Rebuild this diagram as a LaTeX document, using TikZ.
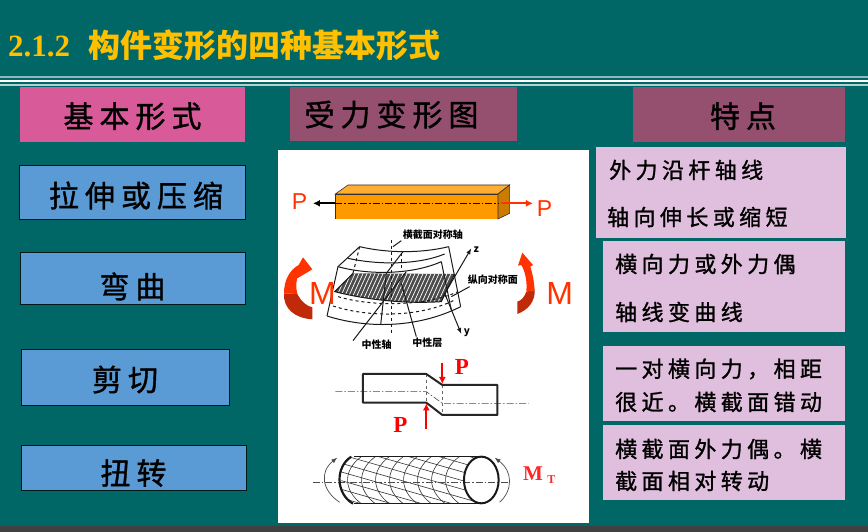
\documentclass[tikz,border=0pt]{standalone}
\usepackage{fontspec}
\setmainfont{Liberation Serif}
\setsansfont{Liberation Sans}
\newfontfamily\cjk{Noto Sans CJK SC}
\newfontfamily\cjkwide[LetterSpace=20,FakeBold=1.2]{Noto Sans CJK SC}
\usetikzlibrary{arrows.meta}
\definecolor{bgteal}{HTML}{006666}
\definecolor{titlegold}{HTML}{FFC000}
\definecolor{hotpink}{HTML}{D85A98}
\definecolor{plum}{HTML}{955070}
\definecolor{skyblue}{HTML}{5B9BD5}
\definecolor{lilac}{HTML}{E0BEDD}
\definecolor{beamor}{HTML}{FF9900}
\definecolor{momred}{HTML}{FF3300}
\definecolor{momdark}{HTML}{C02A08}
\newcommand{\lowr}[2]{\raisebox{#1}[0pt][0pt]{#2}}

\begin{document}
\begin{tikzpicture}[x=1pt,y=-1pt,
  boxh/.style={inner sep=0pt, outer sep=0pt, fill=#1, text=black,
               font=\cjkwide\fontsize{30}{30}\selectfont},
  boxb/.style={boxh=skyblue, draw=black!75!bgteal, line width=0.8pt},
  boxt/.style={inner sep=0pt, outer sep=0pt, fill=lilac},
  txt/.style={inner sep=0pt, anchor=west, font=\cjkwide\fontsize{22}{22}\selectfont},
  small/.style={inner sep=0pt, font=\cjk\bfseries\fontsize{10}{10}\selectfont},
  zone/.style={shift={(278,#1)},x=0.3333pt,y=-0.3333pt},
  axisl/.style={line width=0.6pt, dash pattern=on 7pt off 2pt on 1.5pt off 2pt},
  ar/.style={-{Latex[length=7pt,width=7pt]}, line width=1.8pt},
  thin1/.style={line width=1pt, black!90}
]
\useasboundingbox (0,0) rectangle (868,532);
\fill[bgteal] (0,0) rectangle (868,532);
\fill[black!75] (0,526) rectangle (868,532);

\node[inner sep=0pt, anchor=base west, text=titlegold, font=\bfseries\fontsize{31}{31}\selectfont] (num) at (8,57) {2.1.2};
\node[inner sep=0pt, anchor=base west, text=titlegold, font=\cjk\bfseries\fontsize{32}{32}\selectfont] (title) at (88,58) {构件变形的四种基本形式};
\fill[white!55!bgteal] (0,76.5) rectangle (868,78);
\fill[white] (0,80.5) rectangle (868,82.5);
\fill[white!70!bgteal] (0,84.5) rectangle (868,86);

\node[boxh=hotpink, minimum width=225pt, minimum height=55pt] (h1) at (132.5,114.5) {\lowr{-13pt}{基本形式}};
\node[boxh=plum, minimum width=227pt, minimum height=54pt] (h2) at (403.5,114) {\hspace*{-24pt}\lowr{-12pt}{受力变形图}};
\node[boxh=plum, minimum width=212pt, minimum height=55pt] (h3) at (739,114.5) {\hspace*{8pt}\lowr{-13pt}{特点}};

\node[boxb, minimum width=226pt, minimum height=54pt] (b1) at (132,192) {\hspace*{8pt}\lowr{-15pt}{拉伸或压缩}};
\node[boxb, minimum width=225pt, minimum height=52pt] (b2) at (132.5,278) {\lowr{-20pt}{弯曲}};
\node[boxb, minimum width=208pt, minimum height=56pt] (b3) at (125,377) {\lowr{-14pt}{剪切}};
\node[boxb, minimum width=225pt, minimum height=45pt] (b4) at (133.5,467.5) {\lowr{-17pt}{扭转}};

\node[fill=white, inner sep=0pt, outer sep=0pt, minimum width=311pt, minimum height=373pt] (panel) at (433.5,336.5) {};

\node[boxt, minimum width=250pt, minimum height=91pt] (t1) at (721,192.5) {};
\node[boxt, minimum width=242pt, minimum height=91pt] (t2) at (724,286.5) {};
\node[boxt, minimum width=242pt, minimum height=75pt] (t3) at (724,383.5) {};
\node[boxt, minimum width=242pt, minimum height=75pt] (t4) at (724,462.5) {};
\node[txt] (t1a) at (609,170) {外力沿杆轴线};
\node[txt] (t1b) at (607,217) {轴向伸长或缩短};
\node[txt] (t2a) at (615,264) {横向力或外力偶};
\node[txt] (t2b) at (615,312) {轴线变曲线};
\node[txt] (t3a) at (615,369) {一对横向力，相距};
\node[txt] (t3b) at (615,402) {很近。横截面错动};
\node[txt] (t4a) at (615,449) {横截面外力偶。横};
\node[txt] (t4b) at (615,481) {截面相对转动};

\begin{scope}[zone=150]
\fill[beamor!80!white, draw=black!80, line width=0.6pt] (172,132) -- (210,105) -- (695,105) -- (660,132) -- cycle;
\fill[beamor] (172,132) rectangle (660,207);
\draw[black!80, line width=0.7pt] (172,207) -- (172,132) -- (660,132) -- (660,207);
\fill[beamor!80!black, draw=black!80, line width=0.6pt] (660,132) -- (695,105) -- (695,190) -- (660,207) -- cycle;
\draw[axisl] (172,160) -- (660,160);
\draw[ar, black] (172,160) -- (105,160);
\draw[ar, momred] (670,160) -- (765,160);
\node[text=momred, font=\sffamily\fontsize{23}{23}\selectfont, inner sep=0pt] (p1) at (65,155) {P};
\node[text=momred, font=\sffamily\fontsize{23}{23}\selectfont, inner sep=0pt] (p2) at (800,175) {P};

\begin{scope}
\clip (225,370) -- (530,372) -- (490,455) .. controls (380,462) and (270,450) .. (170,425) -- cycle;
\fill[black!70] (150,360) rectangle (540,470);
\foreach \i in {0,1,...,36}
  \draw[white, line width=0.7pt] (150+\i*12,470) -- (200+\i*12,360);
\end{scope}
\draw[thin1] (225,370) -- (170,425) .. controls (270,450) and (380,462) .. (490,455) -- (530,372);
\draw[thin1] (245,290) .. controls (330,310) and (430,310) .. (512,290);
\draw[thin1] (210,325) .. controls (300,345) and (420,345) .. (500,312);
\draw[thin1] (180,350) .. controls (270,375) and (400,375) .. (490,335);
\draw[thin1] (147,498) .. controls (280,540) and (430,530) .. (548,470);
\draw[thin1] (245,290) -- (180,350) -- (147,498);
\draw[thin1] (512,290) -- (548,470);
\draw[thin1] (490,335) -- (520,480);
\draw[thin1] (375,305) -- (325,370) -- (308,525);
\draw[thin1, dashed] (245,290) -- (225,370);
\draw[thin1, dashed] (180,440) .. controls (280,470) and (440,470) .. (540,425);
\draw[thin1, dashed] (165,468) .. controls (280,505) and (430,500) .. (530,450);
\draw[thin1, dashed] (340,270) -- (340,550);
\draw[thin1, dashed] (372,310) -- (372,365);
\draw[thin1, -{Latex[length=6pt]}] (495,440) -- (580,295);
\draw[thin1, -{Latex[length=6pt]}] (500,430) -- (550,552);
\node[small] (lz) at (595,300) {z};
\node[small] (ly) at (567,548) {y};
\node[small] (l1) at (465,255) {横截面对称轴};
\node[small] (l2) at (645,388) {纵向对称面};
\node[small] (l3) at (296,585) {中性轴};
\node[small] (l4) at (448,578) {中性层};
\draw[thin1] (370,272) -- (345,290);
\draw[thin1] (575,410) -- (520,440);
\draw[thin1] (225,572) -- (385,365);
\draw[thin1] (415,560) -- (370,400);

\fill[momred] (18,430) .. controls (18,390) and (35,360) .. (62,345) -- (75,322) -- (103,358) -- (58,385) -- (62,372) .. controls (55,385) and (52,410) .. (58,432) -- cycle;
\fill[momdark] (18,430) -- (58,432) .. controls (70,455) and (85,468) .. (103,472) -- (103,508) .. controls (50,505) and (15,475) .. (18,430) -- cycle;
\fill[momred] (770,420) .. controls (768,390) and (762,365) .. (757,350) -- (765,345) -- (733,308) -- (720,347) -- (730,345) .. controls (742,365) and (748,395) .. (745,425) -- cycle;
\fill[momdark] (770,420) -- (745,425) .. controls (740,440) and (730,452) .. (718,455) -- (718,492) .. controls (750,480) and (772,455) .. (770,420) -- cycle;
\node[text=momred, font=\sffamily\fontsize{32}{32}\selectfont, inner sep=0pt] (m1) at (133,432) {M};
\node[text=momred, font=\sffamily\fontsize{32}{32}\selectfont, inner sep=0pt] (m2) at (845,432) {M};
\end{scope}

\begin{scope}[zone=340]
\draw[axisl, black!70] (172,155) -- (445,155) -- (493,190) -- (752,190);
\draw[black!60, line width=0.8pt, dashed] (445,102) -- (445,188) (493,135) -- (493,225);
\draw[black!85, line width=2pt, line join=round] (255,102) -- (445,102) -- (493,135) -- (658,135) -- (658,225) -- (493,225) -- (445,188) -- (255,188) -- cycle;
\draw[ar, red] (493,68) -- (493,132);
\draw[ar, red] (445,268) -- (445,190);
\node[text=red, font=\bfseries\fontsize{23}{23}\selectfont, inner sep=0pt] (p3) at (552,80) {P};
\node[text=red, font=\bfseries\fontsize{23}{23}\selectfont, inner sep=0pt] (p4) at (367,255) {P};

\begin{scope}
\clip (228,350) -- (610,350) -- (610,491) -- (228,491) .. controls (170,470) and (170,370) .. (228,350) -- cycle;
\foreach \i in {0,1,...,7}
  \draw[black!80, line width=0.6pt] (250+\i*42,350) .. controls (195+\i*42,390) and (195+\i*42,450) .. (250+\i*42,491);
\foreach \i in {0,1,...,11}
  \draw[black!80, line width=0.6pt] (190,240+\i*26) -- (610,360+\i*26);
\end{scope}
\fill[white] (610,420) ellipse [x radius=52, y radius=70];
\draw[axisl, black!70] (105,428) -- (690,428);
\draw[black!90, line width=2pt] (558,420) arc [start angle=180, end angle=540, x radius=52, y radius=70];
\draw[black!90, line width=1.5pt] (228,350) -- (610,350) (228,491) -- (610,491);
\draw[black!90, line width=2.2pt] (220,350) .. controls (172,380) and (172,460) .. (225,491);
\draw[black!70, line width=0.7pt, -{Latex[length=6pt]}] (185,487) .. controls (130,450) and (125,395) .. (178,353);
\draw[black!70, line width=0.7pt, -{Latex[length=6pt]}] (665,487) .. controls (705,450) and (705,395) .. (650,353);
\node[text=red!85!white, font=\bfseries\fontsize{21}{21}\selectfont, inner sep=0pt] (mt) at (765,402) {M};
\node[text=red!85!white, font=\bfseries\fontsize{12}{12}\selectfont, inner sep=0pt] (mts) at (820,418) {T};
\end{scope}
\end{tikzpicture}
\end{document}
